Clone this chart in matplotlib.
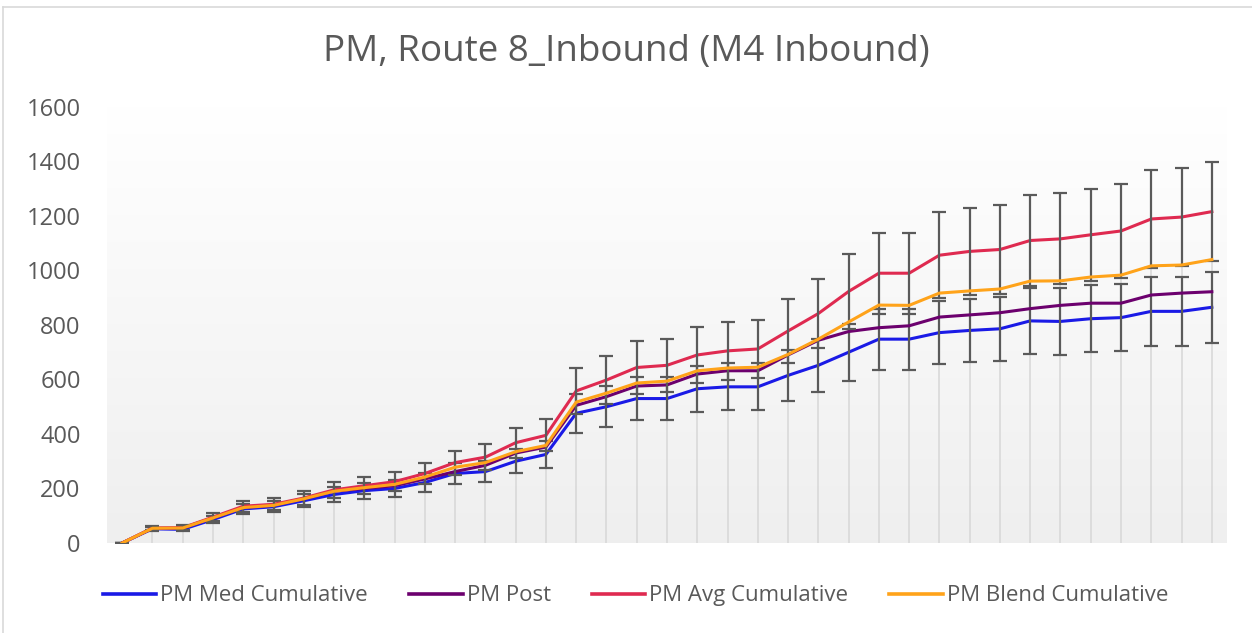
import numpy as np
import matplotlib
matplotlib.use("Agg")
import matplotlib.pyplot as plt
from matplotlib.lines import Line2D

# ---- data ----
title = "PM, Route 8_Inbound (M4 Inbound)"
series_names = ["PM Med Cumulative", "PM Post", "PM Avg Cumulative", "PM Blend Cumulative"]

med = [0, 52, 50, 86, 125, 133, 155, 178, 192, 200, 222, 255, 262, 300, 325,
       476, 500, 530, 530, 566, 573, 573, 615, 652, 700, 748, 748, 772, 780, 786,
       815, 813, 823, 827, 850, 850, 865]
post = [0, 54, 55, 92, 130, 138, 162, 190, 200, 210, 235, 262, 285, 330, 352,
        505, 537, 576, 580, 620, 632, 632, 690, 744, 776, 790, 797, 829, 837, 845,
        860, 872, 880, 880, 910, 917, 922]
avg = [0, 55, 56, 95, 135, 142, 165, 195, 210, 225, 255, 295, 315, 368, 395,
       558, 598, 644, 652, 690, 705, 712, 778, 842, 923, 990, 990, 1056, 1070, 1077,
       1110, 1116, 1131, 1145, 1189, 1196, 1216]
blend = [0, 54, 55, 92, 130, 138, 162, 190, 203, 215, 242, 278, 295, 335, 358,
         517, 550, 587, 594, 632, 642, 645, 692, 748, 811, 873, 872, 917, 925, 932,
         961, 962, 976, 983, 1017, 1020, 1040]
err_pct = 0.15  # percentage error bars on Med and Avg series
yticks = [0, 200, 400, 600, 800, 1000, 1200, 1400, 1600]

colors = ["#1a1ae6", "#6c006e", "#df2a50", "#ffa31a"]
text_color = "#595959"
plt.rcParams["font.family"] = ["Open Sans", "DejaVu Sans"]

fig = plt.figure(figsize=(12.52, 6.33), dpi=100)
ax = fig.add_axes([0.0855, 0.1422, 0.8945, 0.6888])

x = np.arange(len(med))
med_a, post_a, avg_a, blend_a = map(np.array, (med, post, avg, blend))

ax.set_xlim(-0.5, len(med) - 0.5)
ax.set_ylim(0, 1600)

# gradient plot area
grad = np.linspace(0, 1, 256).reshape(-1, 1)
top = np.array([1.0, 1.0, 1.0])
bot = np.array([0.937, 0.937, 0.937])
img = (top + (bot - top) * grad).reshape(256, 1, 3)
ax.imshow(img, extent=[-0.5, len(med) - 0.5, 0, 1600], aspect="auto",
          origin="upper", zorder=0, interpolation="bilinear")

# drop lines
top_vals = np.maximum.reduce([med_a, post_a, avg_a, blend_a])
ax.vlines(x, 0, top_vals, color="#d9d9d9", lw=1.2, zorder=1)

# series
ax.plot(x, med_a, color=colors[0], lw=2.2, zorder=3, label=series_names[0])
ax.errorbar(x, med_a, yerr=med_a * err_pct, fmt="none", ecolor="#5a5a5a",
            elinewidth=1.6, capsize=4.7, capthick=1.6, zorder=4)
ax.plot(x, post_a, color=colors[1], lw=2.2, zorder=5, label=series_names[1])
ax.plot(x, avg_a, color=colors[2], lw=2.2, zorder=6, label=series_names[2])
ax.errorbar(x, avg_a, yerr=avg_a * err_pct, fmt="none", ecolor="#5a5a5a",
            elinewidth=1.6, capsize=4.7, capthick=1.6, zorder=7)
ax.plot(x, blend_a, color=colors[3], lw=2.2, zorder=8, label=series_names[3])

ax.set_yticks(yticks)
ax.set_yticklabels([str(v) for v in yticks])
ax.set_xticks([])
ax.tick_params(axis="y", length=0, pad=19, labelsize=17, labelcolor=text_color)
for s in ax.spines.values():
    s.set_visible(False)

fig.text(0.5, 1 - 52 / 633, title, ha="center", va="center", fontsize=26.5, color=text_color)

handles = [Line2D([], [], color=c, lw=2.6) for c in colors]
fig.legend(handles, series_names, loc="center", bbox_to_anchor=(0.5076, 0.0585),
           ncol=4, frameon=False, fontsize=16, labelcolor=text_color,
           handlelength=2.4, handletextpad=0.18, columnspacing=1.85)

# chart frame (top and left edges visible)
fig.add_artist(Line2D([3 / 1252, 1], [1 - 7 / 633, 1 - 7 / 633], color="#d9d9d9", lw=1.2,
                      transform=fig.transFigure))
fig.add_artist(Line2D([3 / 1252, 3 / 1252], [0, 1 - 7 / 633], color="#d9d9d9", lw=1.2,
                      transform=fig.transFigure))

fig.savefig("out.png", dpi=100)
